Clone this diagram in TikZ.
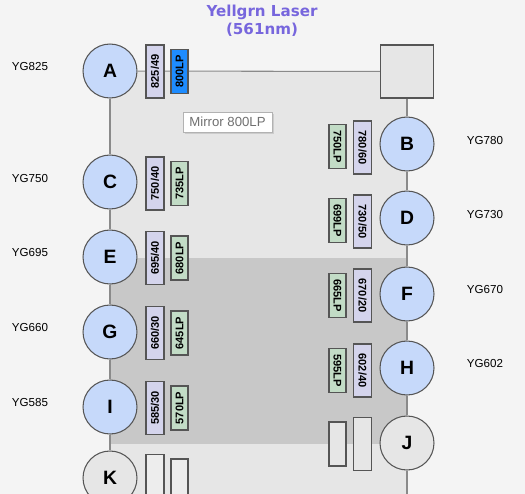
\documentclass[tikz,border=0pt]{standalone}
\usepackage{fontspec}
\setmainfont{Liberation Sans}
\newfontfamily\titlefont{DejaVu Sans}
\usetikzlibrary{shadows}
\definecolor{paper}{HTML}{F4F4F4}
\definecolor{benchgray}{HTML}{E6E6E6}
\definecolor{shadegray}{HTML}{C8C8C8}
\definecolor{wiregray}{HTML}{8A8A8A}
\definecolor{ringgray}{HTML}{555555}
\definecolor{chanblue}{HTML}{C6D9FA}
\definecolor{bandlilac}{HTML}{D4D4EC}
\definecolor{lpgreen}{HTML}{C2DCC6}
\definecolor{mirrorblue}{HTML}{1E8CFF}
\definecolor{laserviolet}{HTML}{7766DD}
\definecolor{tiptext}{HTML}{707070}

\begin{document}
\begin{tikzpicture}[x=0.02cm, y=-0.02cm,
  detector/.style={circle, draw=ringgray, line width=0.6pt, fill=chanblue,
    minimum size=1.08cm, inner sep=0pt, font=\fontsize{11}{11}\selectfont\bfseries},
  idle/.style={detector, fill=benchgray},
  mirrorbox/.style={draw=ringgray, line width=0.6pt, fill=benchgray, minimum size=1.06cm, inner sep=0pt},
  bandpass/.style={draw=ringgray, line width=0.6pt, fill=bandlilac, minimum width=1.06cm,
    minimum height=0.36cm, inner sep=0pt, font=\fontsize{6.3}{6.3}\selectfont\bfseries},
  longpass/.style={bandpass, fill=lpgreen, minimum width=0.88cm, minimum height=0.34cm},
  blank/.style={fill=benchgray!70!white},
  tag/.style={font=\fontsize{6.6}{6.6}\selectfont},
  wire/.style={draw=wiregray, line width=0.6pt}]
  \useasboundingbox (0,0) rectangle (525,494);

  % --- Background and bench areas ---
  \fill[paper]     (0,0)     rectangle (525,494);
  \fill[benchgray] (110,71)  rectangle (407,494);
  \fill[shadegray] (110,258) rectangle (407,444);

  % --- Headline ---
  \node[font=\titlefont\fontsize{8.6}{10}\selectfont\bfseries, text=laserviolet, align=center]
    (title) at (262,21) {Yellgrn Laser\\(561nm)};

  % --- Detectors, left column ---
  \node[detector] (A) at (110,71)  {A};
  \node[detector] (C) at (110,182) {C};
  \node[detector] (E) at (110,257) {E};
  \node[detector] (G) at (110,332) {G};
  \node[detector] (I) at (110,407) {I};
  \node[idle]     (K) at (110,478) {K};

  % --- Detectors, right column ---
  \node[mirrorbox] (mirror) at (407,71.5) {};
  \node[detector] (B) at (407,144) {B};
  \node[detector] (D) at (407,218) {D};
  \node[detector] (F) at (407,294) {F};
  \node[detector] (H) at (407,368) {H};
  \node[idle]     (J) at (407,443) {J};
  \coordinate (leftend)  at (110,500);
  \coordinate (rightend) at (407,500);

  % --- Beam path ---
  \draw[wire] (A) -- (mirror);
  \draw[wire] (A) -- (C) -- (E) -- (G) -- (I) -- (K) -- (leftend);
  \draw[wire] (mirror) -- (B) -- (D) -- (F) -- (H) -- (J) -- (rightend);

  % --- Filters, left column ---
  \node[bandpass, rotate=90] (Abp) at (155,71.5) {825/49};
  \node[longpass, rotate=90, fill=mirrorblue] (Alp) at (179.5,71.5) {800LP};
  \node[bandpass, rotate=90] (Cbp) at (155,183.5) {750/40};
  \node[longpass, rotate=90] (Clp) at (179.5,183.5) {735LP};
  \node[bandpass, rotate=90] (Ebp) at (155,258) {695/40};
  \node[longpass, rotate=90] (Elp) at (179.5,258) {680LP};
  \node[bandpass, rotate=90] (Gbp) at (155,333) {660/30};
  \node[longpass, rotate=90] (Glp) at (179.5,333) {645LP};
  \node[bandpass, rotate=90] (Ibp) at (155,408) {585/30};
  \node[longpass, rotate=90] (Ilp) at (179.5,408) {570LP};
  \node[bandpass, blank, rotate=90] (Kbp) at (155,481) {};
  \node[longpass, blank, rotate=90] (Klp) at (179.5,481) {};

  % --- Filters, right column ---
  \node[bandpass, rotate=-90] (Bbp) at (362.5,147.5) {780/60};
  \node[longpass, rotate=-90] (Blp) at (337.5,146.5) {750LP};
  \node[bandpass, rotate=-90] (Dbp) at (362.5,221.5) {730/50};
  \node[longpass, rotate=-90] (Dlp) at (337.5,220.5) {699LP};
  \node[bandpass, rotate=-90] (Fbp) at (362.5,295.5) {670/20};
  \node[longpass, rotate=-90] (Flp) at (337.5,295.5) {665LP};
  \node[bandpass, rotate=-90] (Hbp) at (362.5,370.5) {602/40};
  \node[longpass, rotate=-90] (Hlp) at (337.5,370.5) {595LP};
  \node[bandpass, blank, rotate=-90, fill=benchgray] (Jbp) at (362.5,444) {};
  \node[longpass, blank, rotate=-90, fill=benchgray] (Jlp) at (337.5,444) {};

  % --- Channel names ---
  \node[tag] (tA) at (30,67)  {YG825};
  \node[tag] (tC) at (30,179) {YG750};
  \node[tag] (tE) at (30,253) {YG695};
  \node[tag] (tG) at (30,328) {YG660};
  \node[tag] (tI) at (30,403) {YG585};
  \node[tag] (tB) at (485,141) {YG780};
  \node[tag] (tD) at (485,215) {YG730};
  \node[tag] (tF) at (485,290) {YG670};
  \node[tag] (tH) at (485,364) {YG602};

  % --- Mirror tooltip ---
  \node[draw=black!30, fill=white, text=tiptext, minimum width=1.78cm, minimum height=0.4cm,
    inner sep=0pt, font=\fontsize{7.5}{7.5}\selectfont,
    drop shadow={shadow xshift=1.2pt, shadow yshift=-1.2pt, opacity=0.25}]
    (mirrortip) at (227.5,122) {Mirror 800LP};
\end{tikzpicture}
\end{document}
